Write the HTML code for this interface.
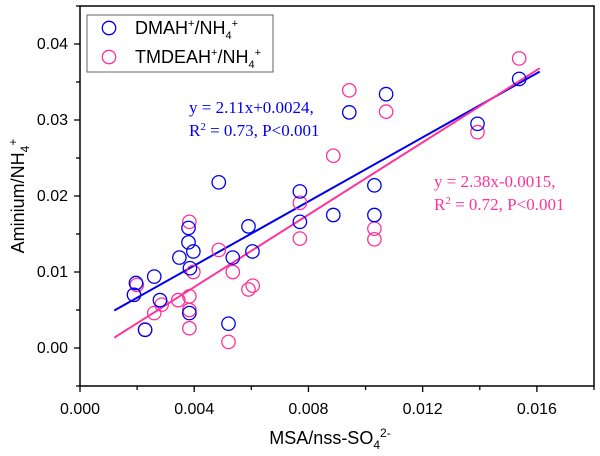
<!DOCTYPE html>
<html><head><meta charset="utf-8"><style>
body{margin:0;background:#fff;}
svg{display:block;font-family:"Liberation Sans",Arial,sans-serif;}
</style></head><body>
<svg id="chart" width="600" height="456"></svg>
<script>
const dmahX=[0.00196,0.00189,0.0026,0.0028,0.00228,0.00348,0.0038,0.0038,0.00397,0.00385,0.00383,0.00486,0.0052,0.00535,0.0059,0.00604,0.0077,0.0077,0.00887,0.00943,0.01072,0.01031,0.01031,0.01392,0.01538];
const dmahY=[0.00855,0.0070,0.0094,0.0063,0.0024,0.0119,0.0158,0.0139,0.0127,0.0105,0.0046,0.0218,0.0032,0.0119,0.0160,0.0127,0.0206,0.0166,0.0175,0.0310,0.0334,0.0214,0.0175,0.0295,0.0354];
const tmdX=[0.00189,0.00199,0.0026,0.00286,0.00228,0.00344,0.00383,0.00383,0.00383,0.00383,0.00397,0.00486,0.0052,0.00535,0.0059,0.00605,0.0077,0.0077,0.00887,0.00943,0.01072,0.01031,0.01031,0.01392,0.01538];
const tmdY=[0.0070,0.0083,0.0046,0.0057,0.0024,0.0063,0.0068,0.0050,0.0026,0.0166,0.0100,0.0129,0.0008,0.0100,0.0077,0.0082,0.0191,0.0144,0.0253,0.0339,0.0311,0.0157,0.0143,0.0284,0.0381];
const fitDmah=[2.11,0.0024];
const fitTmd=[2.38,-0.0015];
const fitRange=[0.0012,0.0161];
const xTicks=[0,0.004,0.008,0.012,0.016];
const xTickLabels=["0.000","0.004","0.008","0.012","0.016"];
const yTicks=[0,0.01,0.02,0.03,0.04];
const yTickLabels=["0.00","0.01","0.02","0.03","0.04"];

const L=80,R=594,T=6,B=386,xMin=0,xMax=0.018,yMin=-0.005,yMax=0.045;
const sx=v=>L+(v-xMin)/(xMax-xMin)*(R-L);
const sy=v=>B-(v-yMin)/(yMax-yMin)*(B-T);
const svg=document.getElementById('chart');
const NS='http://www.w3.org/2000/svg';
function mk(tag,attrs,parent){const e=document.createElementNS(NS,tag);for(const k in attrs)e.setAttribute(k,attrs[k]);(parent||svg).appendChild(e);return e;}

const frame=mk('rect',{x:L,y:T,width:R-L,height:B-T,fill:'none',stroke:'#000','stroke-width':1.5});



for(let v=0;v<=0.0181;v+=0.002){
  const major=Math.abs(v/0.004-Math.round(v/0.004))<1e-6;
  const t=mk('line',{x1:sx(v),x2:sx(v),y1:B,y2:B+(major?6:4),stroke:'#000','stroke-width':1.3});
  
  
}
xTicks.forEach((v,i)=>{
  const t=mk('text',{x:sx(v),y:B+28,'text-anchor':'middle','font-size':16});
  t.textContent=xTickLabels[i];
  
  
});
for(let v=-0.005;v<=0.0451;v+=0.005){
  const major=Math.abs(v/0.01-Math.round(v/0.01))<1e-6;
  const t=mk('line',{x1:L,x2:L-(major?6:4),y1:sy(v),y2:sy(v),stroke:'#000','stroke-width':1.3});
  
  
}
yTicks.forEach((v,i)=>{
  const t=mk('text',{x:L-12,y:sy(v)+5,'text-anchor':'end','font-size':16});
  t.textContent=yTickLabels[i];
  
  
});

function fit(f,color,name){
  const l=mk('line',{x1:sx(fitRange[0]),y1:sy(f[0]*fitRange[0]+f[1]),x2:sx(fitRange[1]),y2:sy(f[0]*fitRange[1]+f[1]),stroke:color,'stroke-width':2});
  
  
}
fit(fitDmah,'#0000ee','dmah-fit-line');
fit(fitTmd,'#ff3399','tmdeah-fit-line');

function pts(xs,ys,color,name){
  xs.forEach((x,i)=>{
    const c=mk('circle',{cx:sx(x),cy:sy(ys[i]),r:6.7,fill:'none',stroke:color,'stroke-width':1.3});
    
    
  });
}
pts(tmdX,tmdY,'#ff3399','tmdeah-point');
pts(dmahX,dmahY,'#0000ee','dmah-point');
</script>
<svg style="position:absolute;left:0;top:0" width="600" height="456">
  <g font-family="Liberation Sans, Arial, sans-serif">
    <rect x="87" y="15" width="186" height="57" fill="#fff" stroke="#666" stroke-width="1"/>
    <circle cx="109" cy="28" r="6.7" fill="none" stroke="#0000ee" stroke-width="1.3"/>
    <text x="135" y="34" font-size="18">DMAH<tspan font-size="11" dy="-7">+</tspan><tspan dy="7">/NH</tspan><tspan font-size="11" dy="5">4</tspan><tspan font-size="11" dy="-12">+</tspan></text>
    <circle cx="109" cy="57" r="6.7" fill="none" stroke="#ff3399" stroke-width="1.3"/>
    <text x="135" y="63" font-size="18">TMDEAH<tspan font-size="11" dy="-7">+</tspan><tspan dy="7">/NH</tspan><tspan font-size="11" dy="5">4</tspan><tspan font-size="11" dy="-12">+</tspan></text>
  </g>
  <g font-family="Liberation Serif, serif" font-size="17">
    <text x="189" y="113" fill="#0000ee">y = 2.11x+0.0024,</text>
    <text x="189" y="136" fill="#0000ee">R<tspan font-size="11" dy="-6">2</tspan><tspan dy="6"> = 0.73, P&lt;0.001</tspan></text>
    <text x="434" y="187" fill="#ff3399">y = 2.38x-0.0015,</text>
    <text x="434" y="210" fill="#ff3399">R<tspan font-size="11" dy="-6">2</tspan><tspan dy="6"> = 0.72, P&lt;0.001</tspan></text>
  </g>
  <text x="330" y="444" text-anchor="middle" font-size="18" font-family="Liberation Sans, Arial, sans-serif">MSA/nss-SO<tspan font-size="12" dy="5">4</tspan><tspan font-size="12" dy="-12">2-</tspan></text>
  <text transform="translate(24,196) rotate(-90)" text-anchor="middle" font-size="18" font-family="Liberation Sans, Arial, sans-serif">Aminium/NH<tspan font-size="12" dy="5">4</tspan><tspan font-size="12" dy="-12">+</tspan></text>
</svg>
</body></html>
